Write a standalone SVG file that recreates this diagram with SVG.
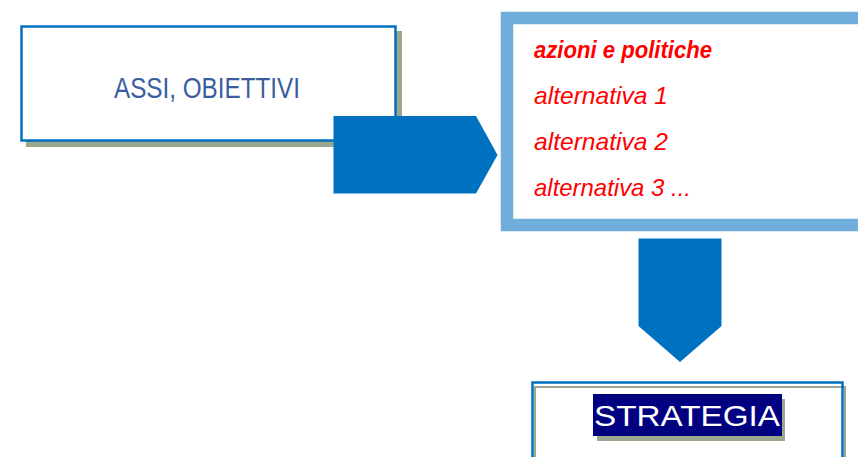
<svg xmlns="http://www.w3.org/2000/svg" width="858" height="457" viewBox="0 0 858 457">
  <style>
    .shadow { fill: #9BA78E; }
    .frame { fill: #FFFFFF; stroke: #0070C0; stroke-width: 2.5; }
    .arrow { fill: #0070C0; }
    .alt { font-family: "Liberation Sans", Arial, sans-serif; font-style: italic; font-size: 24px; fill: #FF0000; }
  </style>
  <rect width="858" height="457" fill="#FFFFFF"/>

  <!-- Objectives box -->
  <g id="assi-obiettivi">
    <rect class="shadow" x="26" y="31" width="376" height="116"/>
    <rect class="frame" x="21.5" y="26.5" width="374" height="114"/>
    <text x="114" y="98" font-family="'Liberation Sans', Arial, sans-serif" font-size="30" fill="#3A5DA0" textLength="186" lengthAdjust="spacingAndGlyphs">ASSI, OBIETTIVI</text>
  </g>

  <!-- Actions and policies box -->
  <g id="azioni-politiche">
    <rect x="507" y="18" width="370" height="207" fill="#FFFFFF" stroke="#6FAEDA" stroke-width="12.5"/>
    <text class="alt" x="534" y="58" font-weight="bold" textLength="178" lengthAdjust="spacingAndGlyphs">azioni e politiche</text>
    <text class="alt" x="534" y="104" textLength="134" lengthAdjust="spacingAndGlyphs">alternativa 1</text>
    <text class="alt" x="534" y="150" textLength="134" lengthAdjust="spacingAndGlyphs">alternativa 2</text>
    <text class="alt" x="534" y="196" textLength="157" lengthAdjust="spacingAndGlyphs">alternativa 3 ...</text>
  </g>

  <!-- Strategy box -->
  <g id="strategia">
    <rect x="535" y="387" width="310" height="90" fill="none" stroke="#9BA78E" stroke-width="2"/>
    <rect x="532.5" y="382.5" width="310" height="90" fill="none" stroke="#0070C0" stroke-width="2.5"/>
    <rect class="shadow" x="597" y="399" width="188" height="42"/>
    <rect x="593" y="394" width="189" height="42" fill="#000080"/>
    <text x="594" y="426" font-family="'Liberation Sans', Arial, sans-serif" font-size="29" fill="#FFFFFF" textLength="186" lengthAdjust="spacingAndGlyphs">STRATEGIA</text>
  </g>

  <!-- Connectors -->
  <g id="connectors">
    <polygon class="arrow" points="333.5,116 476,116 497.5,155 476,193.5 333.5,193.5"/>
    <polygon class="arrow" points="638.5,238.5 721.5,238.5 721.5,326 680,362 638.5,326"/>
  </g>
</svg>
